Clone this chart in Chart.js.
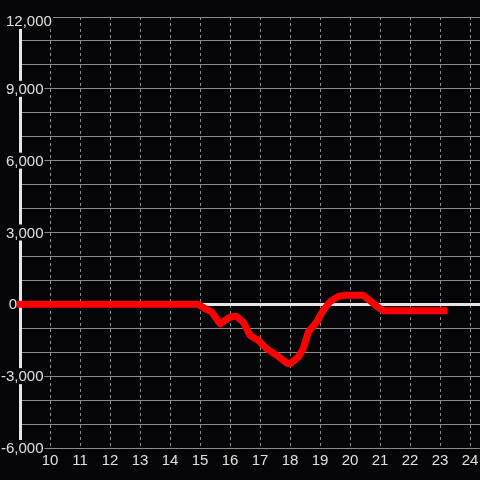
<!DOCTYPE html>
<html>
<head>
<meta charset="utf-8">
<script src="https://cdn.jsdelivr.net/npm/chart.js@4"></script>
<style>
  html, body { margin: 0; padding: 0; background: #050507; }
  canvas { display: block; }
</style>
</head>
<body>
<canvas id="lineChart" width="480" height="480"></canvas>
<script>
// Datos de la serie (hora del día -> valor)
const hours = [9, 14.93, 15.2, 15.39, 15.67, 16.0, 16.22, 16.44, 16.67, 16.94,
  17.22, 17.56, 17.89, 18.0, 18.28, 18.44, 18.61, 18.89, 19.11, 19.33,
  19.61, 19.8, 20.44, 20.72, 21.0, 21.15, 23.13];
const values = [0, 0, -200, -320, -810, -530, -500, -740, -1300, -1500,
  -1850, -2130, -2450, -2480, -2200, -1850, -1160, -740, -250, 100,
  330, 375, 375, 100, -180, -270, -270];

// Etiquetas de los ejes
const yLabelValues = [-6000, -3000, 0, 3000, 6000, 9000, 12000];
const xLabelValues = [10, 11, 12, 13, 14, 15, 16, 17, 18, 19, 20, 21, 22, 23, 24];

const bg = "#050507";
const textColor = "#e0e0e0";
const gridColor = "#8a8a8a";
const axisColor = "#e6e6e6";
const fontFamily = '"Liberation Sans", Arial, sans-serif';
const fontSize = 15;

// Etiquetas del eje Y con fondo oscuro encima de la línea del eje
const yTickLabels = {
  id: "yTickLabels",
  afterDraw(chart) {
    const { ctx, scales: { y } } = chart;
    ctx.save();
    ctx.font = fontSize + "px " + fontFamily;
    ctx.textAlign = "right";
    ctx.textBaseline = "middle";
    yLabelValues.forEach((v) => {
      const text = v.toLocaleString("en-US");
      const w = ctx.measureText(text).width;
      let right = v === 0 ? 17 : 43.5;
      let py = y.getPixelForValue(v);
      if (right - w < 0) { right = 6 + w; py += 4; } // no salir del lienzo
      if (v !== 0) {
        ctx.fillStyle = bg;
        ctx.fillRect(right - w - 2, py - 8, w + 3, 16);
      }
      ctx.fillStyle = textColor;
      ctx.fillText(text, right, py + 1);
    });
    ctx.restore();
  },
};

new Chart(document.getElementById("lineChart").getContext("2d"), {
  type: "line",
  data: {
    datasets: [
      {
        data: hours.map((h, i) => ({ x: h, y: values[i] })),
        borderColor: "#ff0000",
        borderWidth: 7,
        borderCapStyle: "square",
        borderJoinStyle: "round",
        pointRadius: 0,
        tension: 0,
        clip: 5,
      },
    ],
  },
  options: {
    responsive: false,
    animation: false,
    layout: { padding: { top: 17, left: 0, right: 0, bottom: 0 } },
    plugins: {
      legend: { display: false },
      tooltip: { enabled: false },
    },
    scales: {
      x: {
        type: "linear",
        min: 9,
        max: 24.333,
        afterFit: (s) => {
          s.height = 32;
          s.paddingLeft = 0;
          s.paddingRight = 0;
        },
        grid: { color: gridColor, lineWidth: 1, drawTicks: false },
        border: { display: false, dash: [3, 3] },
        ticks: {
          stepSize: 1,
          includeBounds: false,
          padding: 4,
          color: textColor,
          font: { family: fontFamily, size: fontSize },
          maxRotation: 0,
          autoSkip: false,
          callback: (v) => (xLabelValues.includes(v) ? String(v) : ""),
        },
      },
      y: {
        min: -6000,
        max: 12000,
        afterFit: (s) => { s.width = 20; },
        grid: {
          drawTicks: false,
          color: (c) => (c.tick && c.tick.value === 0 ? axisColor : gridColor),
          lineWidth: (c) => (c.tick && c.tick.value === 0 ? 3 : 1),
        },
        border: { display: true, color: axisColor, width: 3 },
        ticks: { stepSize: 1000, maxTicksLimit: 100, display: false },
      },
    },
  },
  plugins: [yTickLabels],
});
</script>
</body>
</html>
